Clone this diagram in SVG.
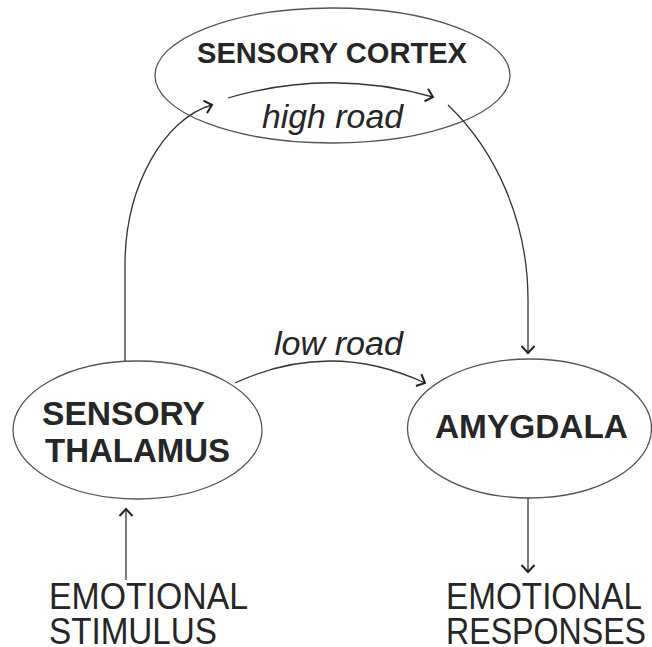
<svg xmlns="http://www.w3.org/2000/svg" width="652" height="647" viewBox="0 0 652 647">
  <style>
    .node ellipse { fill: #ffffff; stroke: #555555; stroke-width: 1.3; }
    .title { font-family: "Liberation Sans", Arial, sans-serif; font-weight: bold; fill: #262626; }
    .road { font-family: "Liberation Sans", Arial, sans-serif; font-style: italic; fill: #262626; font-size: 34px; }
    .label { font-family: "Liberation Sans", Arial, sans-serif; fill: #262626; font-size: 37px; }
    .edge { fill: none; stroke: #333333; stroke-width: 1.3; }
  </style>
  <defs>
    <marker id="head" markerUnits="userSpaceOnUse" viewBox="-10 -10 14 20" markerWidth="14" markerHeight="20" refX="0" refY="0" orient="auto">
      <path d="M-7,-6.5 L0,0 L-7,6.5" fill="none" stroke="#222222" stroke-width="2" stroke-linejoin="miter"/>
    </marker>
  </defs>
  <rect width="652" height="647" fill="#ffffff"/>

  <g id="sensory-cortex" class="node">
    <ellipse cx="332.5" cy="75.5" rx="177.5" ry="67.5"/>
    <text class="title" x="332" y="63" font-size="29" text-anchor="middle" textLength="270" lengthAdjust="spacingAndGlyphs">SENSORY CORTEX</text>
  </g>

  <g id="sensory-thalamus" class="node">
    <ellipse cx="137.5" cy="430" rx="124.5" ry="69"/>
    <text class="title" x="42" y="425" font-size="33" textLength="163" lengthAdjust="spacingAndGlyphs">SENSORY</text>
    <text class="title" x="45" y="462" font-size="33" textLength="185" lengthAdjust="spacingAndGlyphs">THALAMUS</text>
  </g>

  <g id="amygdala" class="node">
    <ellipse cx="529.5" cy="428.5" rx="122" ry="69.5"/>
    <text class="title" x="435" y="438" font-size="34" textLength="193" lengthAdjust="spacingAndGlyphs">AMYGDALA</text>
  </g>

  <g id="emotional-stimulus">
    <text class="label" x="49" y="609" textLength="199" lengthAdjust="spacingAndGlyphs">EMOTIONAL</text>
    <text class="label" x="49" y="644" textLength="168" lengthAdjust="spacingAndGlyphs">STIMULUS</text>
  </g>

  <g id="emotional-responses">
    <text class="label" x="446" y="609" textLength="196" lengthAdjust="spacingAndGlyphs">EMOTIONAL</text>
    <text class="label" x="446" y="644" textLength="200" lengthAdjust="spacingAndGlyphs">RESPONSES</text>
  </g>

  <g id="connectors">
    <!-- stimulus into thalamus -->
    <path class="edge" d="M126,580 L126,509" marker-end="url(#head)"/>
    <!-- thalamus up to cortex -->
    <path class="edge" d="M125,361 L125,265 C125,185 165,118 212,105" marker-end="url(#head)"/>
    <!-- high road across the cortex -->
    <path class="edge" d="M228,98 Q330,68 433,97" marker-end="url(#head)"/>
    <!-- cortex down to amygdala -->
    <path class="edge" d="M448,105 C495,150 528,220 528,300 L528,353" marker-end="url(#head)"/>
    <!-- low road, thalamus to amygdala -->
    <path class="edge" d="M235,383 Q330,339 425,383" marker-end="url(#head)"/>
    <!-- amygdala out to responses -->
    <path class="edge" d="M528,498 L528,572" marker-end="url(#head)"/>
    <text class="road" x="262" y="128" textLength="141" lengthAdjust="spacingAndGlyphs">high road</text>
    <text class="road" x="274" y="355" textLength="129" lengthAdjust="spacingAndGlyphs">low road</text>
  </g>
</svg>
